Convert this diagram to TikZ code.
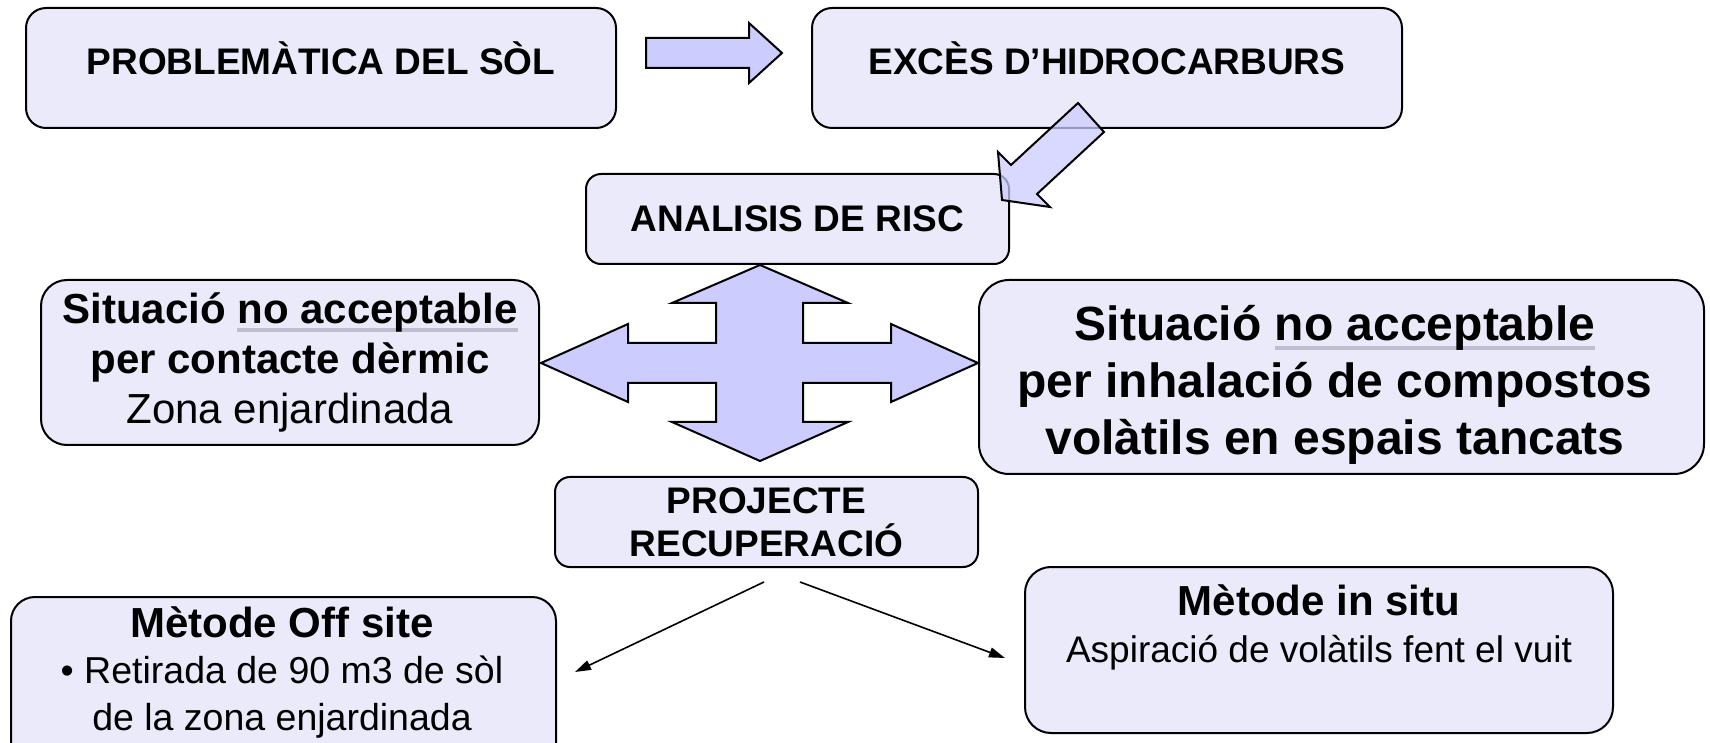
\documentclass[tikz,border=0pt]{standalone}
\usepackage{fontspec}
\setmainfont{Liberation Sans}
\usepackage{tikz}
\usetikzlibrary{arrows.meta}

\definecolor{boxfill}{RGB}{234,234,250}
\definecolor{arrowfill}{RGB}{204,204,255}
\definecolor{linegray}{RGB}{190,190,208}

\newcommand{\grayline}[1]{\setbox0\hbox{#1}\rlap{\color{linegray}\rule[-0.19em]{\wd0}{0.075em}}\box0}

\begin{document}
\begin{tikzpicture}[x=0.5pt, y=-0.5pt,
        box/.style={draw, line width=1pt, fill=boxfill, rounded corners=#1, inner sep=0pt, align=center},
        box/.default=10pt,
        bigarrow/.style={draw, line width=1pt, fill=arrowfill, line join=miter},
        link/.style={line width=0.8pt, -{Triangle[length=8pt, width=5pt]}}]
    \useasboundingbox (0,0) rectangle (1710,743);
    \clip (0,0) rectangle (1710,743);

    \node[box, minimum width=295pt, minimum height=60pt, text depth=10pt, font=\fontsize{18.5}{22}\selectfont\bfseries] (problema) at (321,68) {PROBLEMÀTICA DEL SÒL};
    \node[box, minimum width=295pt, minimum height=60pt, text depth=10pt, font=\fontsize{18.5}{22}\selectfont\bfseries] (exces) at (1107,68) {EXCÈS D’HIDROCARBURS};
    \node[box=7.5pt, minimum width=211.5pt, minimum height=45pt, font=\fontsize{18.5}{22}\selectfont\bfseries] (analisi) at (797.5,219) {ANALISIS DE RISC};
    \node[box=13pt, minimum width=249pt, minimum height=82.5pt, font=\fontsize{21}{25}\selectfont] (dermic) at (290,362.5)
        {{\bfseries Situació \grayline{no acceptable}}\\ {\bfseries per contacte dèrmic}\\ Zona enjardinada};
    \node[box=15pt, minimum width=362.5pt, minimum height=97pt] (inhalacio) at (1341.5,377) {};
    \node[box=7.5pt, minimum width=211.5pt, minimum height=45pt, font=\fontsize{18.5}{21.5}\selectfont\bfseries] (projecte) at (766.5,522) {PROJECTE\\ RECUPERACIÓ};
    \node[box=12pt, minimum width=272.5pt, minimum height=101.5pt] (offsite) at (283.5,698.5) {};
    \node[box=13pt, minimum width=294pt, minimum height=83pt] (insitu) at (1319,650) {};
    \node[align=center, inner sep=0pt, font=\fontsize{24}{28.5}\selectfont\bfseries] (inhalaciotext) at (1335,385)
        {Situació \grayline{no acceptable}\\ per inhalació de compostos\\ volàtils en espais tancats};
    \node[align=center, inner sep=0pt, font=\fontsize{18.75}{23.25}\selectfont] (offsitetext) at (282,672)
        {{\fontsize{21}{23.25}\selectfont\bfseries Mètode Off site}\\ • Retirada de 90 m3 de sòl\\ de la zona enjardinada};
    \node[align=center, inner sep=0pt, font=\fontsize{18.5}{23.5}\selectfont] (insitutext) at (1319,627.5)
        {{\fontsize{21}{23.5}\selectfont\bfseries Mètode in situ}\\ Aspiració de volàtils fent el vuit};

    % block arrows
    \draw[bigarrow] (646,38) -- (749,38) -- (749,23) -- (782,53) -- (749,83) -- (749,68) -- (646,68) -- cycle;
    \draw[bigarrow, fill opacity=0.75] (1078,103) -- (1104,132) -- (1037,194) -- (1050,207) -- (1002,200)
        -- (998,152) -- (1011,165) -- cycle;
    \draw[bigarrow] (760,265) -- (848,303) -- (803,303) -- (803,343) -- (891,343) -- (891,324) -- (978,363)
        -- (891,402) -- (891,383) -- (803,383) -- (803,422) -- (848,422) -- (760,461) -- (672,422)
        -- (716,422) -- (716,383) -- (628,383) -- (628,402) -- (541,363) -- (628,324) -- (628,343)
        -- (716,343) -- (716,303) -- (672,303) -- cycle;

    \coordinate (projleft) at (764,582);
    \coordinate (projright) at (800,582);
    \coordinate (offsiteend) at (575,672);
    \coordinate (insituend) at (1005,658);
    \draw[link] (projleft) -- (offsiteend);
    \draw[link] (projright) -- (insituend);
\end{tikzpicture}
\end{document}
